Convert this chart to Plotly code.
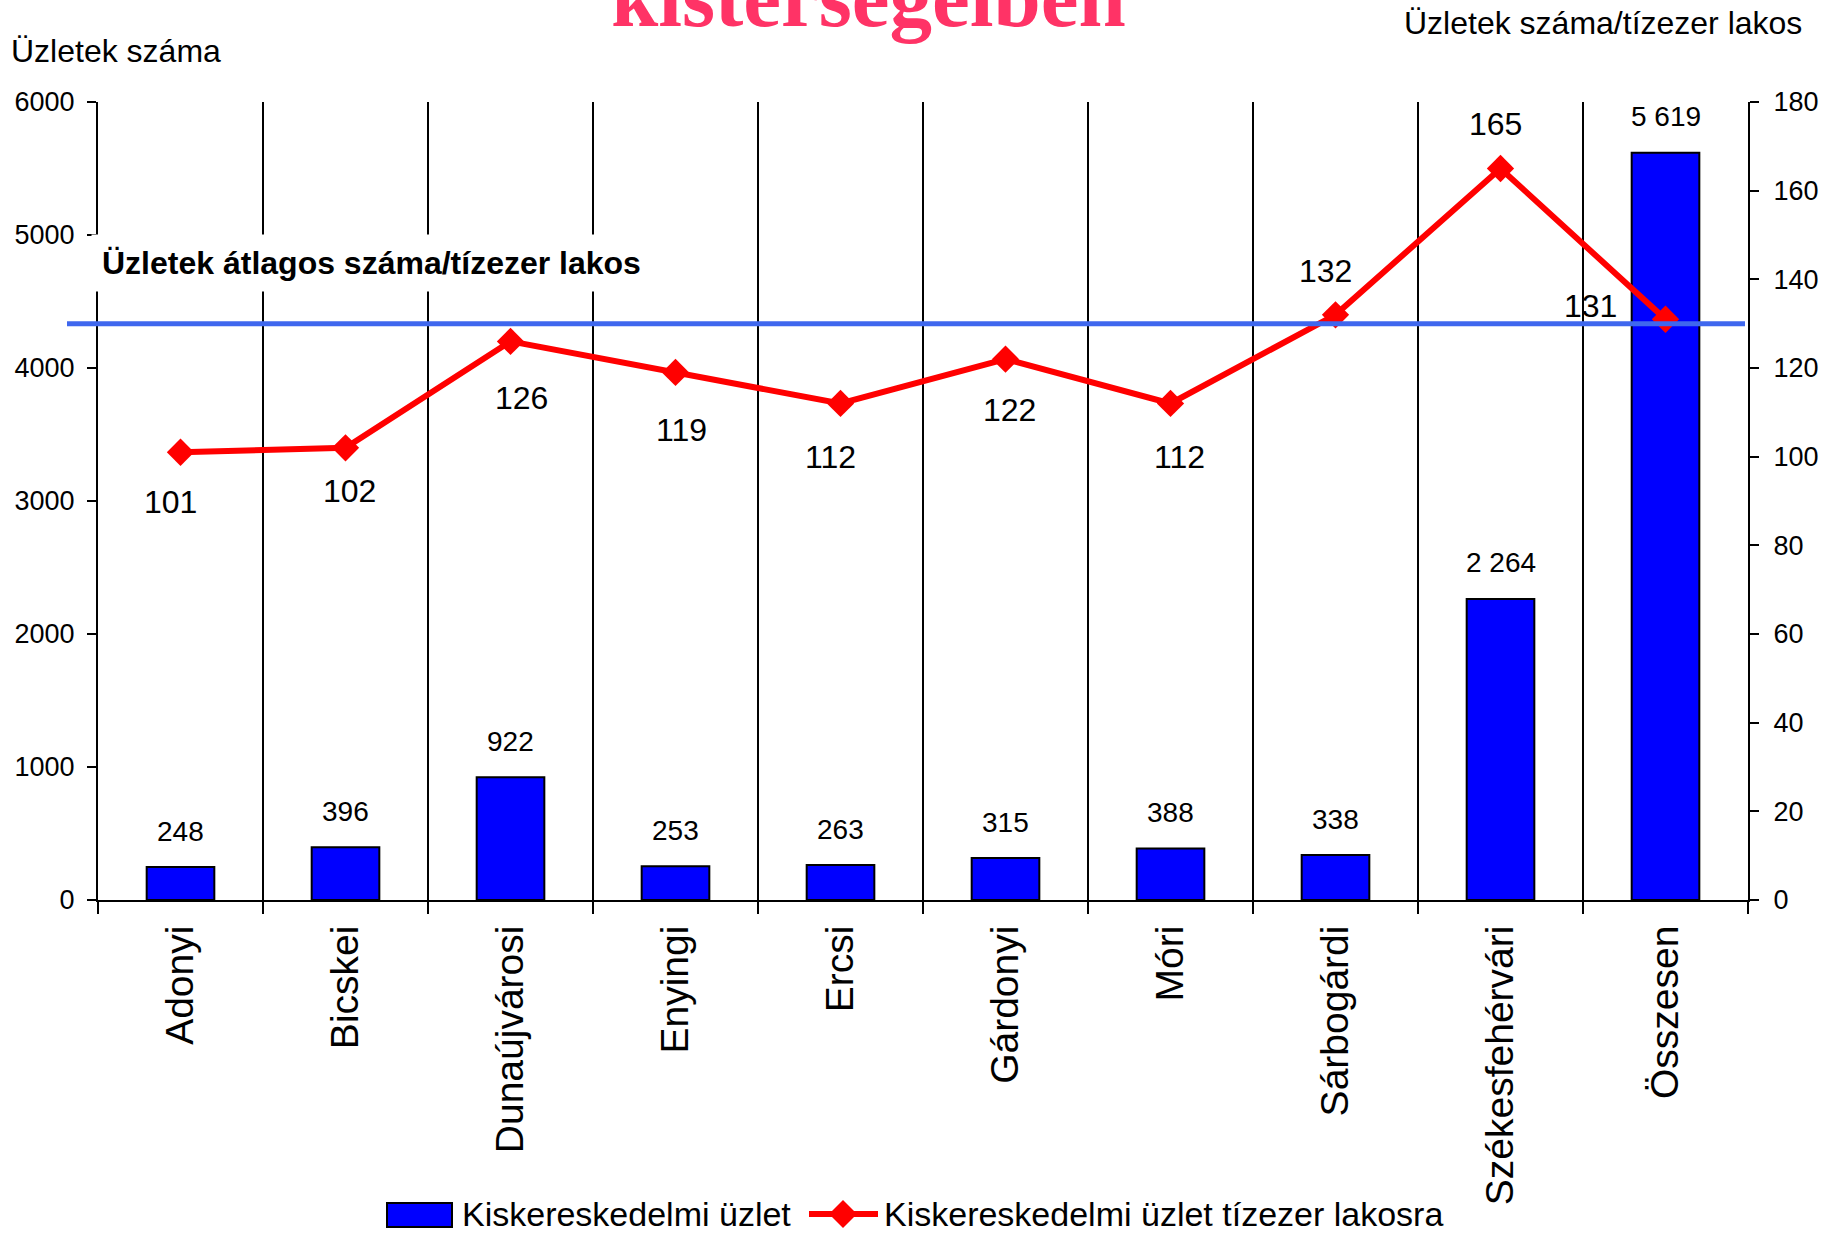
import plotly.graph_objects as go

# ---------------- data ----------------
categories = ["Adonyi", "Bicskei", "Dunaújvárosi", "Enyingi", "Ercsi",
              "Gárdonyi", "Móri", "Sárbogárdi", "Székesfehérvári", "Összesen"]
shops = [248, 396, 922, 253, 263, 315, 388, 338, 2264, 5619]
shops_per_10k = [101, 102, 126, 119, 112, 122, 112, 132, 165, 131]
avg_per_10k = 130
left_ticks = [0, 1000, 2000, 3000, 4000, 5000, 6000]
right_ticks = [0, 20, 40, 60, 80, 100, 120, 140, 160, 180]

title_text = "kistérségeiben"
left_title = "Üzletek száma"
right_title = "Üzletek száma/tízezer lakos"
avg_label = "Üzletek átlagos száma/tízezer lakos"
legend_bar = "Kiskereskedelmi üzlet"
legend_line = "Kiskereskedelmi üzlet tízezer lakosra"

# label offsets in pixels (style only)
line_label_shift = [(-10, -50), (4, -43), (11, -57), (6, -58), (-10, -54),
                    (4, -51), (9, -54), (-10, 44), (-5, 45), (-75, 13)]

# ---------------- geometry ----------------
W, H = 1831, 1234
L, R, T, B = 98, 83, 102, 334
PW, PH = W - L - R, H - T - B
FONT = "Liberation Sans, Arial, sans-serif"


def px(x):
    return (x - L) / PW


def py(y):
    return (H - B - y) / PH


fig = go.Figure()
fig.add_trace(go.Bar(
    x=categories, y=shops, width=0.41,
    marker=dict(color="#0000FF", line=dict(color="black", width=2)),
    showlegend=False, hoverinfo="skip"))
fig.add_trace(go.Scatter(
    x=categories, y=shops_per_10k, yaxis="y2", mode="lines+markers",
    line=dict(color="#FF0000", width=6),
    marker=dict(symbol="diamond", size=21, color="#FF0000"),
    showlegend=False, hoverinfo="skip"))

ann = []
for c, v in zip(categories, shops):
    ann.append(dict(x=c, y=v, xref="x", yref="y", text=f"{v:,}".replace(",", " "),
                    showarrow=False, yanchor="middle", yshift=36,
                    font=dict(size=28, color="black", family=FONT)))
for c, v, (dx, dy) in zip(categories, shops_per_10k, line_label_shift):
    ann.append(dict(x=c, y=v, xref="x", yref="y2", text=str(v), showarrow=False,
                    xshift=dx, yshift=dy, yanchor="middle",
                    font=dict(size=32, color="black", family=FONT)))

# average label with white box
ann.append(dict(x=px(91), y=py(263), xref="paper", yref="paper", xanchor="left",
                yanchor="middle", text="<b>" + avg_label + "</b>", showarrow=False,
                bgcolor="white", borderpad=10,
                font=dict(size=32, color="black", family=FONT)))
# title (cut off at top)
ann.append(dict(x=px(868), y=py(46), xref="paper", yref="paper", xanchor="center",
                yanchor="bottom", text="<b>" + title_text + "</b>", showarrow=False,
                font=dict(size=85, color="#FF3366", family="Liberation Serif, Times New Roman, serif")))
# axis titles
ann.append(dict(x=px(9), y=py(51), xref="paper", yref="paper", xanchor="left",
                yanchor="middle", text=left_title, showarrow=False,
                font=dict(size=32, color="black", family=FONT)))
ann.append(dict(x=px(1804), y=py(23), xref="paper", yref="paper", xanchor="right",
                yanchor="middle", text=right_title, showarrow=False,
                font=dict(size=32, color="black", family=FONT)))
# legend texts
ann.append(dict(x=px(460), y=py(1214), xref="paper", yref="paper", xanchor="left",
                yanchor="middle", text=legend_bar, showarrow=False,
                font=dict(size=34, color="black", family=FONT)))
ann.append(dict(x=px(882), y=py(1214), xref="paper", yref="paper", xanchor="left",
                yanchor="middle", text=legend_line, showarrow=False,
                font=dict(size=34, color="black", family=FONT)))

shapes = [
    # average reference line
    dict(type="line", xref="paper", yref="y2", x0=px(67), x1=px(1745),
         y0=avg_per_10k, y1=avg_per_10k, line=dict(color="#3F67EE", width=5),
         layer="above"),
    # legend: bar swatch
    dict(type="rect", xref="paper", yref="paper", x0=px(387), x1=px(452),
         y0=py(1227), y1=py(1203), fillcolor="#0000FF",
         line=dict(color="black", width=2)),
    # legend: line swatch
    dict(type="line", xref="paper", yref="paper", x0=px(809), x1=px(878),
         y0=py(1214), y1=py(1214), line=dict(color="#FF0000", width=6)),
    dict(type="path", xref="paper", yref="paper", xsizemode="pixel", ysizemode="pixel",
         xanchor=px(843), yanchor=py(1214), path="M-14,0 L0,14 L14,0 L0,-14 Z",
         fillcolor="#FF0000", line=dict(width=0)),
]

axis_common = dict(showgrid=False, zeroline=False, tickwidth=2, tickcolor="black",
                   ticklen=9, tickfont=dict(size=27, color="black", family=FONT))

fig.update_layout(
    width=W, height=H, autosize=False,
    margin=dict(l=L, r=R, t=T, b=B, pad=0),
    paper_bgcolor="white", plot_bgcolor="white",
    font=dict(family=FONT, color="black"),
    showlegend=False,
    xaxis=dict(type="category", range=[-0.5, 9.5], tickson="boundaries",
               showgrid=True, gridcolor="black", gridwidth=2,
               ticks="outside", ticklen=12, tickwidth=2, tickcolor="black",
               showline=True, linecolor="black", linewidth=2, zeroline=False,
               tickangle=-90, ticklabelstandoff=8,
               tickfont=dict(size=39, color="black", family=FONT)),
    yaxis=dict(range=[0, 6000], tickvals=left_ticks, ticks="outside",
               showline=True, linecolor="black", linewidth=2,
               ticklabelstandoff=7, **axis_common),
    yaxis2=dict(range=[0, 180], tickvals=right_ticks, ticks="outside", side="right",
                overlaying="y", showline=True, linecolor="black", linewidth=2,
                ticklabelstandoff=9, **axis_common),
    yaxis3=dict(range=[0, 6000], tickvals=left_ticks, ticks="inside", side="left",
                overlaying="y", showline=False, showticklabels=False, **axis_common),
    yaxis4=dict(range=[0, 180], tickvals=right_ticks, ticks="inside", side="right",
                overlaying="y", showline=False, showticklabels=False, **axis_common),
    annotations=ann,
    shapes=shapes,
)

fig.write_html("out.html", config={"displayModeBar": False},
               post_script="document.body.style.margin='0';document.body.style.overflow='hidden';")
